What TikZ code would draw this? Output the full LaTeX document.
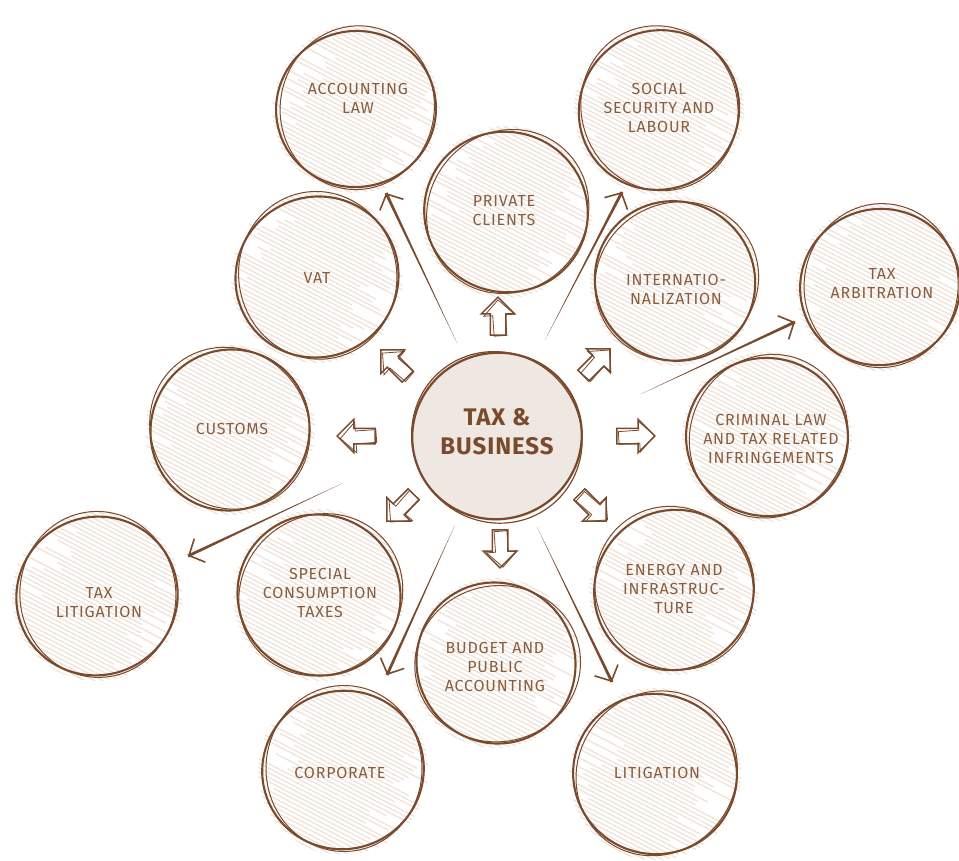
\documentclass[tikz,border=0pt]{standalone}
\usepackage{fontspec}
\setmainfont{Fira Sans}
\usetikzlibrary{shapes.arrows,arrows.meta,calc}
\definecolor{brn}{HTML}{7A4A2C}
\definecolor{lblc}{HTML}{8A5D3E}
\definecolor{hat}{HTML}{EEE3DA}
\definecolor{cfill}{HTML}{EFE7E1}
\tikzset{
 skmain/.style={draw=brn, line width=2.1pt},
 skthin/.style={draw=brn, line width=1pt},
 hatchln/.style={draw=hat, line width=1.3pt, line cap=round},
 lbltext/.style={text=lblc, font=\fontsize{16}{19}\selectfont\addfontfeature{LetterSpace=5}, align=center, inner sep=0pt},
 blockarr/.style={single arrow, draw=brn, line width=1.5pt, fill=white, minimum height=38pt, inner xsep=0pt, inner ysep=7pt, single arrow head extend=9pt, single arrow tip angle=90},
 blockarr2/.style={single arrow, draw=brn, line width=0.8pt, minimum height=36pt, inner xsep=0pt, inner ysep=6pt, single arrow head extend=9pt, single arrow tip angle=90},
 taper/.style={fill=brn},
 barb/.style={draw=brn, line width=1.5pt, -{Straight Barb[length=12pt,width=26pt,line width=1.6pt]}},
}
\newcommand{\skcirc}[4]{%
 \begin{scope}
  \clip (#1,#2) circle [radius=#3+4];
  \foreach \d in {-96,-92,...,96}{
   \pgfmathsetmacro\sa{-110+70*rnd}
   \pgfmathsetmacro\sb{110-70*rnd}
   \draw[hatchln, rotate around={-27:(#1,#2)}] ($(#1,#2)+(\sa,\d)$) -- ($(#1,#2)+(\sb,\d+1)$);
  }
 \end{scope}
 \draw[skmain, rotate around={#4:(#1,#2)}] (#1,#2) ellipse [x radius=#3, y radius=#3-2];
 \draw[skthin, rotate around={#4+70:(#1,#2)}] ($(#1,#2)+(1.5,1)$) ellipse [x radius=#3+2, y radius=#3-3];
}
\newcommand{\longarr}[2]{%
 \fill[taper] ($(#2)!1.5pt!90:(#1)$) -- ($(#2)!1.5pt!-90:(#1)$) -- (#1) -- cycle;
 \draw[barb] ($(#2)!3pt!(#1)$) -- (#2);
}
\begin{document}
\begin{tikzpicture}[x=1pt,y=-1pt]
\pgfmathsetseed{7}
\useasboundingbox (0,0) rectangle (959,861);
% outer circles
\skcirc{356}{109}{80}{10}
\skcirc{659}{110}{81}{40}
\skcirc{506}{212}{82}{-20}
\skcirc{317}{277}{82}{30}
\skcirc{675}{281}{81}{-40}
\skcirc{880}{287}{80}{15}
\skcirc{230}{430}{81}{60}
\skcirc{767}{437}{81}{-10}
\skcirc{97}{596}{81}{25}
\skcirc{319}{595}{82}{-30}
\skcirc{674}{590}{81}{50}
\skcirc{496}{663}{81}{-60}
\skcirc{343}{770}{81}{20}
\skcirc{655}{774}{82}{-15}
% centre
\fill[cfill] (497,436) circle [radius=85];
\draw[brn, line width=2.2pt, rotate around={20:(497,436)}] (497,436) ellipse [x radius=85, y radius=83];
\draw[brn, line width=1.2pt, rotate around={-50:(497,436)}] (498,437) ellipse [x radius=87, y radius=84];
\node[text=brn, font=\fontsize{24}{29}\selectfont\bfseries\addfontfeature{LetterSpace=4}, align=center] (tb) at (497,432) {TAX \&\\BUSINESS};
% labels
\node[lbltext] (acc) at (358,98) {ACCOUNTING\\LAW};
\node[lbltext] (soc) at (659,108) {SOCIAL\\SECURITY AND\\LABOUR};
\node[lbltext] (priv) at (504,211) {PRIVATE\\CLIENTS};
\node[lbltext] (vat) at (317,278) {VAT};
\node[lbltext] (intl) at (676,289) {INTERNATIO-\\NALIZATION};
\node[lbltext] (arb) at (882,284) {TAX\\ARBITRATION};
\node[lbltext] (cust) at (232,429) {CUSTOMS};
\node[lbltext] (crim) at (771,439) {CRIMINAL LAW\\AND TAX RELATED\\INFRINGEMENTS};
\node[lbltext] (tlit) at (99,603) {TAX\\LITIGATION};
\node[lbltext] (spec) at (320,593) {SPECIAL\\CONSUMPTION\\TAXES};
\node[lbltext] (enr) at (674,589) {ENERGY AND\\INFRASTRUC-\\TURE};
\node[lbltext] (bud) at (495,667) {BUDGET AND\\PUBLIC\\ACCOUNTING};
\node[lbltext] (corp) at (340,773) {CORPORATE};
\node[lbltext] (lit) at (657,773) {LITIGATION};
% block arrows
\foreach \n/\x/\y/\a in {b1/498/320/90, b2/397/366/135, b3/360/436/180, b4/403/505/225, b5/500/545/270, b6/590/505/315, b7/632/436/0, b8/594/365/45}{
 \node[blockarr, rotate=\a] (\n) at (\x,\y) {};
 \node[blockarr2, rotate=\a+4] (\n x) at ($(\x,\y)+(1.5,1)$) {};
}
% long arrows
\coordinate (t1) at (457,343); \coordinate (h1) at (386,193);
\coordinate (t2) at (545,340); \coordinate (h2) at (622,192);
\coordinate (t3) at (641,394); \coordinate (h3) at (795,322);
\coordinate (t4) at (343,483); \coordinate (h4) at (188,556);
\coordinate (t5) at (455,525); \coordinate (h5) at (387,675);
\coordinate (t6) at (537,527); \coordinate (h6) at (612,682);
\longarr{t1}{h1}
\longarr{t2}{h2}
\longarr{t3}{h3}
\longarr{t4}{h4}
\longarr{t5}{h5}
\longarr{t6}{h6}
\end{tikzpicture}
\end{document}
